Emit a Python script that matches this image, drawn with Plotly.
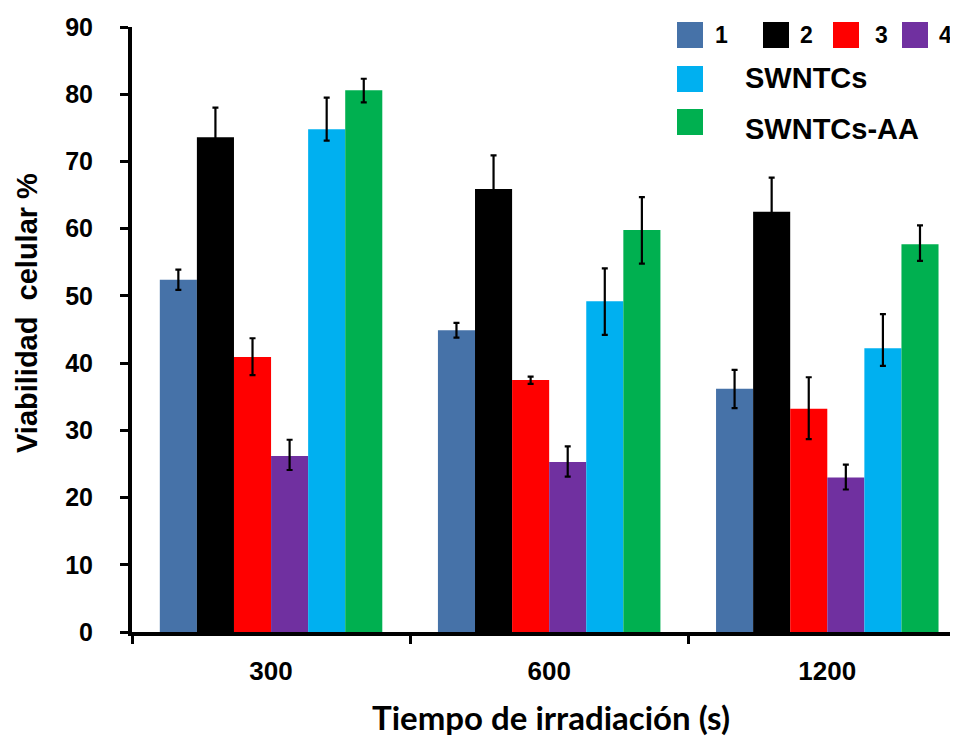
import plotly.graph_objects as go

categories = ["300", "600", "1200"]
series_names = ["1", "2", "3", "4", "SWNTCs", "SWNTCs-AA"]
colors = ["#4672A8", "#000000", "#FF0000", "#7030A0", "#00B0F0", "#00B050"]
x_title = "Tiempo de irradiación (s)"
y_title = "Viabilidad  celular %"

s1 = [52.4, 44.9, 36.2]
s2 = [73.6, 65.9, 62.5]
s3 = [40.9, 37.5, 33.2]
s4 = [26.2, 25.3, 23.0]
s_swntc = [74.8, 49.2, 42.2]
s_swntc_aa = [80.6, 59.8, 57.7]

e1_plus = [1.5, 1.1, 2.8]
e1_minus = [1.5, 1.1, 2.9]
e2_plus = [4.4, 5.0, 5.1]
e2_minus = [4.4, 5.0, 5.1]
e3_plus = [2.8, 0.5, 4.7]
e3_minus = [2.7, 0.6, 4.5]
e4_plus = [2.4, 2.3, 1.9]
e4_minus = [2.1, 2.2, 1.8]
e5_plus = [4.7, 4.9, 5.1]
e5_minus = [1.7, 5.0, 2.6]
e6_plus = [1.7, 4.9, 2.8]
e6_minus = [1.8, 5.0, 2.5]

values = [s1, s2, s3, s4, s_swntc, s_swntc_aa]
err_plus = [e1_plus, e2_plus, e3_plus, e4_plus, e5_plus, e6_plus]
err_minus = [e1_minus, e2_minus, e3_minus, e4_minus, e5_minus, e6_minus]

# page has an 8px body margin; figure sized to fit the 958x740 window
W, H = 950, 732
ML, MR, MT, MB = 124, 0, 19, 108
PW, PH = W - ML - MR, H - MT - MB
PLOT_LEFT, PLOT_BOTTOM = 8 + ML, 8 + H - MB  # screen pixels


def px_x(px):
    return (px - PLOT_LEFT) / PW


def px_y(py):
    return (PLOT_BOTTOM - py) / PH


fig = go.Figure()
for i, (name, vals, col) in enumerate(zip(series_names, values, colors)):
    fig.add_trace(go.Bar(
        x=categories, y=vals, name=name, marker_color=col,
        marker_line_width=0, showlegend=False,
        error_y=dict(type="data", symmetric=False, array=err_plus[i],
                     arrayminus=err_minus[i], color="black",
                     thickness=2.2, width=3),
    ))

# Custom legend (row of 1-4, then SWNTCs, SWNTCs-AA)
legend_boxes = [(677, 22), (763, 22), (833, 22), (902, 22), (677, 66), (677, 109)]
legend_text = [(713, 35, 23), (798, 35, 23), (873, 35, 23), (937, 35, 23),
               (743, 78, 29), (743, 129, 29)]
shapes = []
annotations = []
for (bx, by), (tx, ty, fs), name, col in zip(legend_boxes, legend_text, series_names, colors):
    shapes.append(dict(type="rect", xref="paper", yref="paper",
                       x0=px_x(bx), x1=px_x(bx + 26), y0=px_y(by + 26), y1=px_y(by),
                       fillcolor=col, line=dict(width=0)))
    annotations.append(dict(text=name, xref="paper", yref="paper",
                            x=px_x(tx), y=px_y(ty), xanchor="left", yanchor="middle",
                            showarrow=False,
                            font=dict(size=fs, family="Liberation Sans", weight="bold",
                                      color="black")))

# axis titles
annotations.append(dict(text=x_title, xref="paper", yref="paper",
                        x=px_x(551), y=px_y(717), xanchor="center", yanchor="middle",
                        showarrow=False,
                        font=dict(size=33, family="Lato", weight="bold", color="black")))
annotations.append(dict(text=y_title, xref="paper", yref="paper", textangle=-90,
                        x=px_x(27), y=px_y(313), xanchor="center", yanchor="middle",
                        showarrow=False,
                        font=dict(size=29, family="Liberation Sans", weight="bold",
                                  color="black")))

fig.update_layout(
    width=W, height=H,
    margin=dict(l=ML, r=MR, t=MT, b=MB),
    paper_bgcolor="white", plot_bgcolor="white",
    barmode="group", bargap=0.2, bargroupgap=0,
    font=dict(family="Liberation Sans", color="black"),
    showlegend=False,
    shapes=shapes, annotations=annotations,
)

fig.update_xaxes(
    range=[-0.5, 2.47], showline=True, linecolor="black", linewidth=4,
    ticks="outside", tickson="boundaries", ticklen=8, tickwidth=3, tickcolor="black",
    ticklabelstandoff=13, automargin=False,
    tickfont=dict(size=26, family="Liberation Sans", weight="bold"),
    showgrid=False, zeroline=False,
)
fig.update_yaxes(
    range=[0, 90], dtick=10, showline=True, linecolor="black", linewidth=4,
    ticks="outside", ticklen=8, tickwidth=3, tickcolor="black",
    ticklabelstandoff=22, automargin=False,
    tickfont=dict(size=25, family="Liberation Sans", weight="bold"),
    showgrid=False, zeroline=False,
)

fig.write_html("out.html")
